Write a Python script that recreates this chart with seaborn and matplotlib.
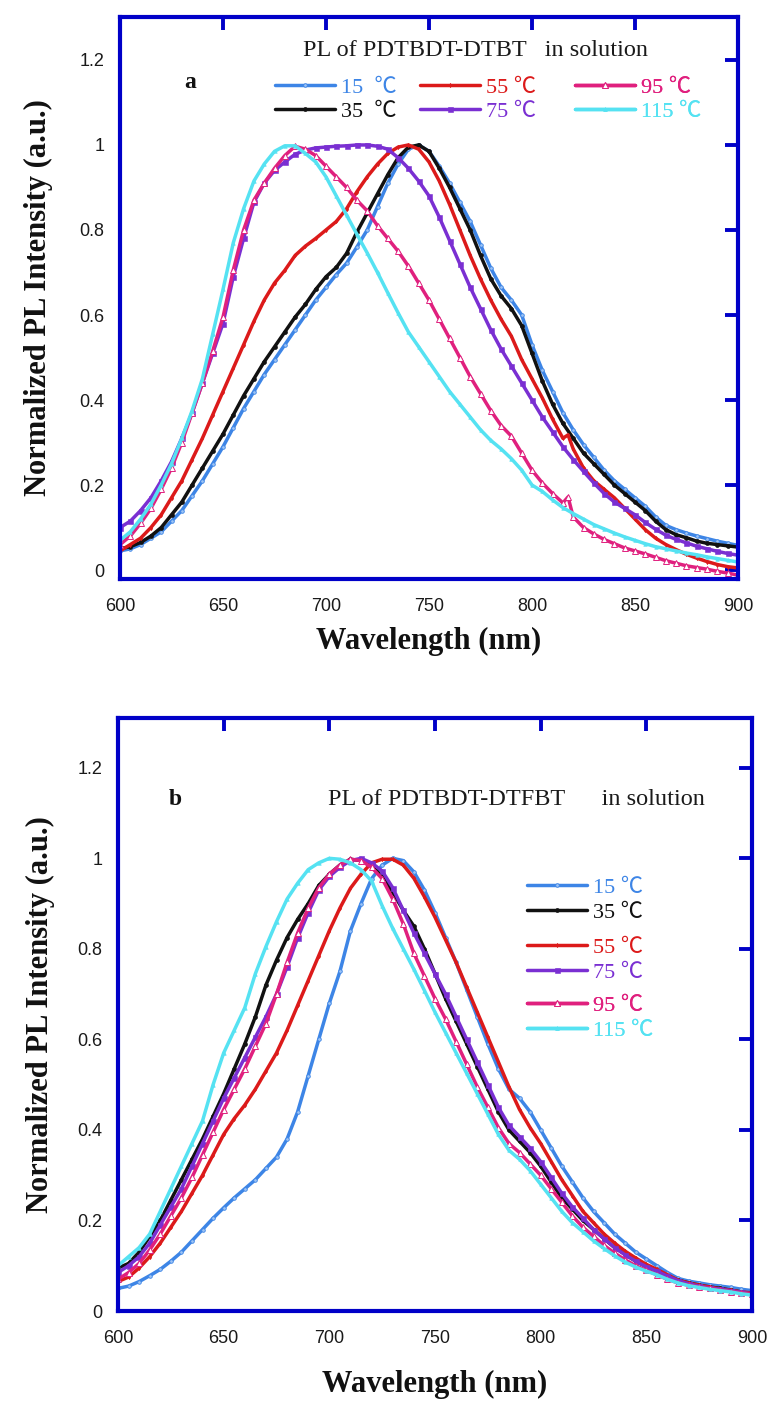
import matplotlib
matplotlib.use("Agg")
import matplotlib.pyplot as plt
from matplotlib.lines import Line2D
from matplotlib.font_manager import FontProperties
import seaborn as sns

# ---------------- data ----------------
wavelength = list(range(600, 901, 5))
temp_labels_a = ["15  ℃", "35  ℃", "55 ℃", "75 ℃", "95 ℃", "115 ℃"]
temp_labels_b = ["15 ℃", "35 ℃", "55 ℃", "75 ℃", "95 ℃", "115 ℃"]
y_ticks = [0, 0.2, 0.4, 0.6, 0.8, 1.0, 1.2]
y_tick_labels = ["0", "0.2", "0.4", "0.6", "0.8", "1", "1.2"]
x_ticks = [600, 650, 700, 750, 800, 850, 900]

# PDTBDT-DTBT, normalized PL
a_15 = [0.045, 0.05, 0.06, 0.075, 0.09, 0.115, 0.14, 0.175, 0.21, 0.25, 0.29, 0.335, 0.38, 0.42, 0.46,
        0.495, 0.53, 0.565, 0.60, 0.635, 0.665, 0.695, 0.722, 0.76, 0.80, 0.855, 0.91, 0.955, 0.99, 1.0,
        0.985, 0.95, 0.91, 0.865, 0.82, 0.765, 0.71, 0.665, 0.635, 0.60, 0.53, 0.47, 0.42, 0.37, 0.33,
        0.295, 0.265, 0.235, 0.21, 0.19, 0.17, 0.15, 0.125, 0.105, 0.095, 0.087, 0.08, 0.074, 0.068, 0.063, 0.058]
a_35 = [0.05, 0.055, 0.065, 0.08, 0.10, 0.13, 0.16, 0.20, 0.24, 0.28, 0.32, 0.365, 0.41, 0.45, 0.49,
        0.525, 0.56, 0.595, 0.625, 0.66, 0.69, 0.712, 0.745, 0.795, 0.84, 0.885, 0.93, 0.97, 0.995, 1.0,
        0.985, 0.945, 0.90, 0.85, 0.80, 0.74, 0.685, 0.645, 0.615, 0.575, 0.51, 0.445, 0.39, 0.345, 0.31,
        0.275, 0.25, 0.225, 0.20, 0.18, 0.16, 0.14, 0.115, 0.095, 0.083, 0.076, 0.068, 0.063, 0.06, 0.057, 0.054]
a_55 = [0.045, 0.06, 0.075, 0.10, 0.13, 0.17, 0.21, 0.26, 0.31, 0.365, 0.42, 0.475, 0.53, 0.585, 0.635,
        0.675, 0.705, 0.74, 0.762, 0.78, 0.80, 0.82, 0.85, 0.89, 0.925, 0.955, 0.98, 0.995, 1.0, 0.99,
        0.96, 0.915, 0.86, 0.80, 0.74, 0.685, 0.635, 0.59, 0.55, 0.495, 0.45, 0.405, 0.355, 0.31, 0.285,
        0.24, 0.21, 0.19, 0.17, 0.145, 0.12, 0.095, 0.075, 0.06, 0.048, 0.037, 0.028, 0.02, 0.013, 0.008, 0.005]
a_75 = [0.10, 0.115, 0.14, 0.17, 0.21, 0.255, 0.31, 0.37, 0.44, 0.51, 0.58, 0.69, 0.78, 0.865, 0.91,
        0.94, 0.96, 0.978, 0.988, 0.993, 0.995, 0.997, 0.998, 1.0, 1.0, 0.997, 0.99, 0.97, 0.945, 0.915,
        0.88, 0.83, 0.775, 0.72, 0.665, 0.615, 0.565, 0.52, 0.48, 0.44, 0.40, 0.36, 0.325, 0.29, 0.26,
        0.232, 0.205, 0.18, 0.16, 0.145, 0.13, 0.112, 0.096, 0.082, 0.072, 0.064, 0.056, 0.05, 0.044, 0.039, 0.035]
a_95 = [0.06, 0.08, 0.11, 0.145, 0.19, 0.24, 0.30, 0.37, 0.44, 0.515, 0.595, 0.706, 0.80, 0.87, 0.91,
        0.945, 0.975, 0.997, 0.99, 0.975, 0.95, 0.925, 0.90, 0.87, 0.845, 0.81, 0.78, 0.75, 0.715, 0.675,
        0.635, 0.59, 0.545, 0.50, 0.455, 0.415, 0.375, 0.34, 0.315, 0.275, 0.235, 0.205, 0.18, 0.158, 0.125,
        0.10, 0.085, 0.072, 0.062, 0.052, 0.045, 0.038, 0.03, 0.022, 0.016, 0.01, 0.006, 0.002, -0.003, -0.007, -0.012]
a_115 = [0.07, 0.09, 0.12, 0.155, 0.20, 0.25, 0.31, 0.375, 0.45, 0.555, 0.66, 0.77, 0.85, 0.915, 0.955,
         0.985, 0.998, 0.998, 0.98, 0.96, 0.925, 0.88, 0.835, 0.79, 0.746, 0.70, 0.652, 0.605, 0.56, 0.525,
         0.49, 0.455, 0.42, 0.39, 0.36, 0.33, 0.305, 0.285, 0.262, 0.235, 0.20, 0.185, 0.165, 0.147, 0.133,
         0.12, 0.107, 0.097, 0.087, 0.078, 0.07, 0.062, 0.055, 0.05, 0.045, 0.04, 0.036, 0.031, 0.027, 0.023, 0.019]
# narrow spikes near 818 nm
a_55_spike = ([817.5], [0.318])
a_95_spike = ([817.5], [0.172])

# PDTBDT-DTFBT, normalized PL
b_15 = [0.05, 0.055, 0.065, 0.078, 0.092, 0.11, 0.13, 0.155, 0.18, 0.205, 0.228, 0.25, 0.27, 0.29, 0.315,
        0.34, 0.38, 0.44, 0.52, 0.60, 0.68, 0.75, 0.84, 0.90, 0.955, 0.985, 1.0, 0.995, 0.97, 0.93,
        0.88, 0.825, 0.77, 0.71, 0.65, 0.59, 0.535, 0.49, 0.47, 0.44, 0.40, 0.36, 0.32, 0.285, 0.25,
        0.22, 0.195, 0.17, 0.15, 0.13, 0.115, 0.10, 0.085, 0.072, 0.066, 0.062, 0.058, 0.055, 0.052, 0.048, 0.045]
b_35 = [0.095, 0.105, 0.13, 0.165, 0.20, 0.245, 0.29, 0.335, 0.38, 0.43, 0.48, 0.535, 0.59, 0.65, 0.72,
        0.775, 0.825, 0.865, 0.90, 0.94, 0.965, 0.985, 0.998, 0.995, 0.983, 0.96, 0.925, 0.885, 0.85, 0.80,
        0.745, 0.69, 0.64, 0.59, 0.54, 0.49, 0.44, 0.40, 0.375, 0.35, 0.32, 0.285, 0.25, 0.225, 0.20,
        0.18, 0.16, 0.14, 0.125, 0.11, 0.098, 0.088, 0.078, 0.068, 0.062, 0.057, 0.053, 0.05, 0.046, 0.042, 0.038]
b_55 = [0.065, 0.075, 0.095, 0.12, 0.15, 0.185, 0.22, 0.26, 0.30, 0.345, 0.39, 0.425, 0.455, 0.49, 0.53,
        0.57, 0.62, 0.675, 0.73, 0.785, 0.84, 0.89, 0.934, 0.965, 0.99, 0.998, 0.998, 0.985, 0.956, 0.915,
        0.87, 0.82, 0.77, 0.715, 0.66, 0.605, 0.55, 0.495, 0.445, 0.405, 0.37, 0.33, 0.29, 0.255, 0.22,
        0.195, 0.17, 0.15, 0.132, 0.117, 0.103, 0.092, 0.08, 0.068, 0.062, 0.057, 0.053, 0.049, 0.046, 0.042, 0.04]
b_75 = [0.085, 0.10, 0.12, 0.15, 0.19, 0.23, 0.27, 0.32, 0.37, 0.42, 0.47, 0.515, 0.56, 0.605, 0.65,
        0.70, 0.76, 0.824, 0.88, 0.93, 0.96, 0.98, 0.995, 1.0, 0.99, 0.972, 0.935, 0.885, 0.835, 0.79,
        0.745, 0.70, 0.65, 0.60, 0.55, 0.50, 0.45, 0.41, 0.385, 0.36, 0.33, 0.295, 0.26, 0.23, 0.205,
        0.18, 0.16, 0.14, 0.124, 0.11, 0.098, 0.088, 0.077, 0.067, 0.06, 0.055, 0.051, 0.048, 0.045, 0.041, 0.038]
b_95 = [0.07, 0.085, 0.105, 0.135, 0.17, 0.21, 0.25, 0.295, 0.345, 0.395, 0.445, 0.49, 0.535, 0.585, 0.635,
        0.70, 0.77, 0.835, 0.89, 0.935, 0.965, 0.985, 0.998, 0.995, 0.98, 0.955, 0.91, 0.855, 0.79, 0.74,
        0.69, 0.645, 0.595, 0.545, 0.495, 0.45, 0.405, 0.37, 0.35, 0.325, 0.30, 0.27, 0.24, 0.21, 0.185,
        0.165, 0.145, 0.128, 0.113, 0.10, 0.09, 0.08, 0.07, 0.062, 0.057, 0.053, 0.05, 0.046, 0.043, 0.04, 0.037]
b_115 = [0.10, 0.12, 0.14, 0.17, 0.22, 0.27, 0.32, 0.37, 0.42, 0.50, 0.57, 0.62, 0.67, 0.745, 0.805,
         0.86, 0.91, 0.945, 0.975, 0.99, 1.0, 0.998, 0.99, 0.975, 0.95, 0.895, 0.845, 0.80, 0.755, 0.708,
         0.66, 0.615, 0.57, 0.525, 0.48, 0.435, 0.39, 0.355, 0.335, 0.31, 0.28, 0.25, 0.22, 0.195, 0.175,
         0.155, 0.138, 0.122, 0.108, 0.097, 0.088, 0.08, 0.07, 0.062, 0.056, 0.052, 0.048, 0.045, 0.042, 0.038, 0.035]

# ---------------- styling ----------------
sns.set_theme(style="white")
plt.rcParams["font.family"] = ["Liberation Sans", "DejaVu Sans"]

AXIS_BLUE = "#0000c8"
colors = ["#3d85e6", "#111111", "#dc1a1a", "#7a2fd2", "#e0207e", "#55e2f2"]
marker_styles = [
    dict(marker="o", markersize=2.6, markerfacecolor="#9cc3f5", markeredgecolor="#3d85e6", markeredgewidth=0.6),
    dict(marker="o", markersize=2.8, markerfacecolor="#111111", markeredgecolor="#111111", markeredgewidth=0.5),
    dict(marker="d", markersize=2.2, markerfacecolor="#dc1a1a", markeredgecolor="#dc1a1a", markeredgewidth=0.4),
    dict(marker="s", markersize=3.6, markerfacecolor="#7a2fd2", markeredgecolor="#7a2fd2", markeredgewidth=0.4),
    dict(marker="^", markersize=4.2, markerfacecolor="white", markeredgecolor="#e0207e", markeredgewidth=0.7),
    dict(marker="^", markersize=2.6, markerfacecolor="#55e2f2", markeredgecolor="#55e2f2", markeredgewidth=0.4),
]
LW = 2.5

serif_label = FontProperties(family=["Liberation Serif", "Noto Sans CJK SC"], size=16)
title_font = dict(family=["Liberation Serif", "DejaVu Serif"], size=17.5, color="#1a1a1a")
axis_label_font = dict(family=["Liberation Serif", "DejaVu Serif"], size=22, weight="bold", color="#111111")

W, H = 774, 1421
fig = plt.figure(figsize=(W / 100, H / 100), dpi=100)
fig.patch.set_facecolor("white")

ax_a = fig.add_axes([120 / W, 1 - 579 / H, 618 / W, 562 / H])
ax_b = fig.add_axes([118 / W, 1 - 1311 / H, 634 / W, 593 / H])


def merge(xs, ys, extra=None):
    pts = list(zip(xs, ys))
    if extra is not None:
        pts += list(zip(extra[0], extra[1]))
    pts.sort()
    return [p[0] for p in pts], [p[1] for p in pts]


def draw_panel(ax, series, extras):
    for i, ys in enumerate(series):
        xs, yv = merge(wavelength, ys, extras.get(i))
        sns.lineplot(x=xs, y=yv, ax=ax, color=colors[i], linewidth=LW,
                     legend=False, **marker_styles[i])


def style_axes(ax, ylim, xlabel_y, ylabel_x):
    ax.set_xlim(600, 900)
    ax.set_ylim(*ylim)
    ax.set_xticks(x_ticks)
    ax.set_xticklabels([str(t) for t in x_ticks])
    ax.set_yticks(y_ticks)
    ax.set_yticklabels(y_tick_labels)
    for s in ax.spines.values():
        s.set_visible(True)
        s.set_color(AXIS_BLUE)
        s.set_linewidth(3.0)
    ax.tick_params(axis="both", which="major", direction="in", length=9.5, width=2.8,
                   color=AXIS_BLUE, top=True, right=True, labelsize=13,
                   labelcolor="#1a1a1a", pad=11)
    ax.tick_params(axis="x", pad=14)
    ax.set_xlabel("Wavelength (nm)", **axis_label_font)
    ax.set_ylabel("Normalized PL Intensity (a.u.)", **axis_label_font)
    ax.xaxis.set_label_coords(0.5, xlabel_y)
    ax.yaxis.set_label_coords(ylabel_x, 0.5)
    ax.set_facecolor("white")


def legend_handles():
    return [Line2D([], [], color=colors[i], linewidth=LW, **marker_styles[i]) for i in range(6)]


def add_legend_group(ax, idx, labels, x, y, spacing):
    hs = legend_handles()
    leg = ax.legend([hs[i] for i in idx], [labels[i] for i in idx], loc="upper left",
                    bbox_to_anchor=(x, y), bbox_transform=ax.transAxes, frameon=False,
                    borderpad=0, borderaxespad=0, handlelength=2.7, handletextpad=0.28,
                    labelspacing=spacing, prop=serif_label, labelcolor="linecolor", markerscale=1.0)
    ax.add_artist(leg)


# ---------------- panel a ----------------
draw_panel(ax_a, [a_15, a_35, a_55, a_75, a_95, a_115], {2: a_55_spike, 4: a_95_spike})
style_axes(ax_a, (-0.021, 1.301), -0.085, -0.108)
ax_a.text(0.296, 0.941, "PL of PDTBDT-DTBT   in solution", transform=ax_a.transAxes,
          ha="left", va="center", **title_font)
ax_a.text(0.113, 0.883, "a", transform=ax_a.transAxes, ha="center", va="center",
          family=["Liberation Serif"], size=17, weight="bold", color="#111111")
add_legend_group(ax_a, [0, 1], temp_labels_a, 0.251, 0.893, 0.15)
add_legend_group(ax_a, [2, 3], temp_labels_a, 0.485, 0.893, 0.15)
add_legend_group(ax_a, [4, 5], temp_labels_a, 0.736, 0.893, 0.15)

# ---------------- panel b ----------------
draw_panel(ax_b, [b_15, b_35, b_55, b_75, b_95, b_115], {})
style_axes(ax_b, (0.0, 1.31), -0.10, -0.099)
ax_b.text(0.331, 0.862, "PL of PDTBDT-DTFBT      in solution", transform=ax_b.transAxes,
          ha="left", va="center", **title_font)
ax_b.text(0.090, 0.862, "b", transform=ax_b.transAxes, ha="center", va="center",
          family=["Liberation Serif"], size=17, weight="bold", color="#111111")
add_legend_group(ax_b, [0, 1], temp_labels_b, 0.645, 0.731, 0.2)
add_legend_group(ax_b, [2, 3], temp_labels_b, 0.645, 0.630, 0.2)
add_legend_group(ax_b, [4, 5], temp_labels_b, 0.645, 0.532, 0.2)

fig.savefig("out.png", dpi=100, facecolor="white")
